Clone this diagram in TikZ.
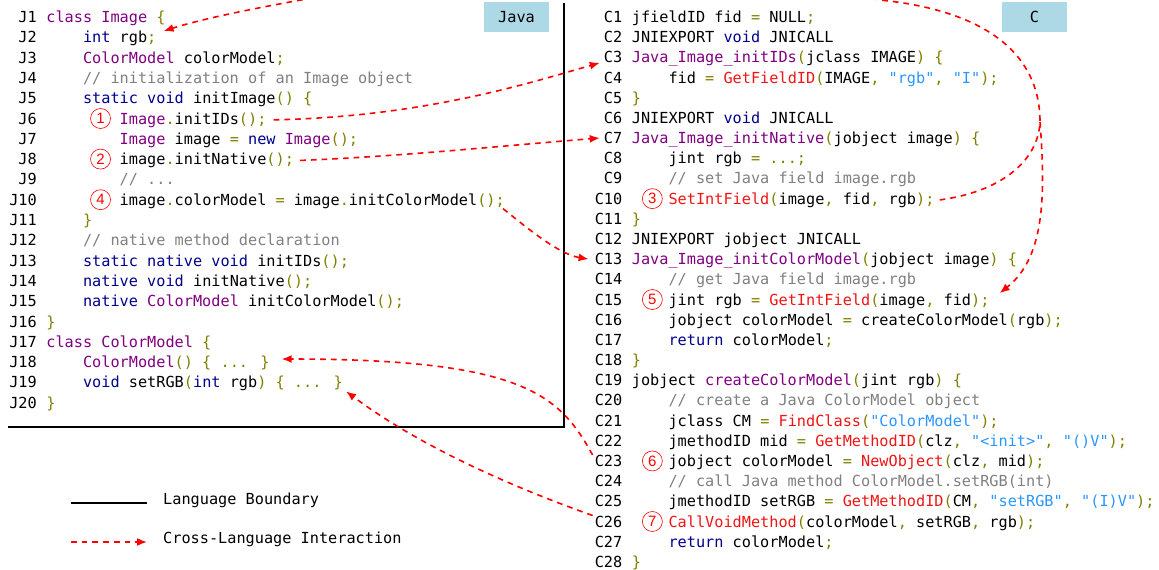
\documentclass[tikz,border=0pt]{standalone}
\usepackage{fontspec}
\usepackage{tikz}
\usetikzlibrary{arrows.meta}

\newfontfamily\codefont{DejaVu Sans Mono}
\newfontfamily\numfont{Liberation Sans}
\newcommand{\codesize}{\codefont\fontsize{15.23pt}{18pt}\selectfont}
\def\cw{9.17pt}

\definecolor{kwblue}{RGB}{0,0,140}
\definecolor{typurple}{RGB}{128,0,128}
\definecolor{puolive}{RGB}{128,128,0}
\definecolor{fnred}{RGB}{240,20,20}
\definecolor{strblue}{RGB}{42,150,255}
\definecolor{cmgray}{RGB}{128,128,128}
\definecolor{boxblue}{RGB}{173,216,230}

\newcommand{\jkw}[1]{\textcolor{kwblue}{#1}}
\newcommand{\jty}[1]{\textcolor{typurple}{#1}}
\newcommand{\jpu}[1]{\textcolor{puolive}{#1}}
\newcommand{\jfn}[1]{\textcolor{fnred}{#1}}
\newcommand{\jstr}[1]{\textcolor{strblue}{#1}}
\newcommand{\jcm}[1]{\textcolor{cmgray}{#1}}

\tikzset{
  code/.style={font=\codesize, anchor=base west, inner sep=0pt},
  lnum/.style={font=\codesize, anchor=base east, inner sep=0pt},
  cnum/.style={circle, draw=red, line width=0.6pt, text=red, minimum size=20pt,
    inner sep=0pt, font=\numfont\fontsize{15pt}{15pt}\selectfont},
  xarrow/.style={red, line width=1.6pt, dash pattern=on 5.7pt off 5pt,
    -{Latex[length=10pt,width=8pt]}},
  boundary/.style={black, line width=1.7pt},
  langbox/.style={fill=boxblue, minimum width=65pt, minimum height=30pt,
    inner sep=0pt, font=\codesize}
}

\begin{document}
\begin{tikzpicture}[x=1pt,y=-1pt]
\useasboundingbox (0,0) rectangle (1159,570);
\clip (0,0) rectangle (1159,570);

\draw[boundary] (564,3) -- (564,427) -- (8,427);
\node[langbox] (javabox) at (516.5,17) {Java};
\node[langbox] (cbox) at (1034.5,17) {C};

\foreach \i in {1,...,20}
  \node[lnum] (jn\i) at (37,{22.5+(\i-1)*20.3}) {J\i};
\foreach \i in {1,...,28}
  \node[lnum] (cn\i) at (622.5,{22.5+(\i-1)*20.18}) {C\i};

% Java side
\node[code] (j1) at ([xshift=\cw]jn1.base east) {\jty{class Image} \jpu{\{}};
\node[code] (j2) at ([xshift=5*\cw]jn2.base east) {\jkw{int} rgb\jpu{;}};
\node[code] (j3) at ([xshift=5*\cw]jn3.base east) {\jty{ColorModel} colorModel\jpu{;}};
\node[code] (j4) at ([xshift=5*\cw]jn4.base east) {\jcm{// initialization of an Image object}};
\node[code] (j5) at ([xshift=5*\cw]jn5.base east) {\jkw{static void} initImage\jpu{() \{}};
\node[code] (j6) at ([xshift=9*\cw]jn6.base east) {\jty{Image}\jpu{.}initIDs\jpu{();}};
\node[code] (j7) at ([xshift=9*\cw]jn7.base east) {\jty{Image} image \jpu{=} \jkw{new} \jty{Image}\jpu{();}};
\node[code] (j8) at ([xshift=9*\cw]jn8.base east) {image\jpu{.}initNative\jpu{();}};
\node[code] (j9) at ([xshift=9*\cw]jn9.base east) {\jcm{// ...}};
\node[code] (j10) at ([xshift=9*\cw]jn10.base east) {image\jpu{.}colorModel \jpu{=} image\jpu{.}initColorModel\jpu{();}};
\node[code] (j11) at ([xshift=5*\cw]jn11.base east) {\jpu{\}}};
\node[code] (j12) at ([xshift=5*\cw]jn12.base east) {\jcm{// native method declaration}};
\node[code] (j13) at ([xshift=5*\cw]jn13.base east) {\jkw{static native void} initIDs\jpu{();}};
\node[code] (j14) at ([xshift=5*\cw]jn14.base east) {\jkw{native void} initNative\jpu{();}};
\node[code] (j15) at ([xshift=5*\cw]jn15.base east) {\jkw{native} \jty{ColorModel} initColorModel\jpu{();}};
\node[code] (j16) at ([xshift=\cw]jn16.base east) {\jpu{\}}};
\node[code] (j17) at ([xshift=\cw]jn17.base east) {\jty{class ColorModel} \jpu{\{}};
\node[code] (j18) at ([xshift=5*\cw]jn18.base east) {\jty{ColorModel}\jpu{() \{ ... \}}};
\node[code] (j19) at ([xshift=5*\cw]jn19.base east) {\jkw{void} setRGB\jpu{(}\jkw{int} rgb\jpu{) \{ ... \}}};
\node[code] (j20) at ([xshift=\cw]jn20.base east) {\jpu{\}}};

% C side
\node[code] (c1) at ([xshift=\cw]cn1.base east) {jfieldID fid \jpu{=} NULL\jpu{;}};
\node[code] (c2) at ([xshift=\cw]cn2.base east) {JNIEXPORT \jkw{void} JNICALL};
\node[code] (c3) at ([xshift=\cw]cn3.base east) {\jty{Java\_Image\_initIDs}\jpu{(}jclass IMAGE\jpu{) \{}};
\node[code] (c4) at ([xshift=5*\cw]cn4.base east) {fid \jpu{=} \jfn{GetFieldID}\jpu{(}IMAGE\jpu{,} \jstr{"rgb"}\jpu{,} \jstr{"I"}\jpu{);}};
\node[code] (c5) at ([xshift=\cw]cn5.base east) {\jpu{\}}};
\node[code] (c6) at ([xshift=\cw]cn6.base east) {JNIEXPORT \jkw{void} JNICALL};
\node[code] (c7) at ([xshift=\cw]cn7.base east) {\jty{Java\_Image\_initNative}\jpu{(}jobject image\jpu{) \{}};
\node[code] (c8) at ([xshift=5*\cw]cn8.base east) {jint rgb \jpu{= ...;}};
\node[code] (c9) at ([xshift=5*\cw]cn9.base east) {\jcm{// set Java field image.rgb}};
\node[code] (c10) at ([xshift=5*\cw]cn10.base east) {\jfn{SetIntField}\jpu{(}image\jpu{,} fid\jpu{,} rgb\jpu{);}};
\node[code] (c11) at ([xshift=\cw]cn11.base east) {\jpu{\}}};
\node[code] (c12) at ([xshift=\cw]cn12.base east) {JNIEXPORT jobject JNICALL};
\node[code] (c13) at ([xshift=\cw]cn13.base east) {\jty{Java\_Image\_initColorModel}\jpu{(}jobject image\jpu{) \{}};
\node[code] (c14) at ([xshift=5*\cw]cn14.base east) {\jcm{// get Java field image.rgb}};
\node[code] (c15) at ([xshift=5*\cw]cn15.base east) {jint rgb \jpu{=} \jfn{GetIntField}\jpu{(}image\jpu{,} fid\jpu{);}};
\node[code] (c16) at ([xshift=5*\cw]cn16.base east) {jobject colorModel \jpu{=} createColorModel\jpu{(}rgb\jpu{);}};
\node[code] (c17) at ([xshift=5*\cw]cn17.base east) {\jkw{return} colorModel\jpu{;}};
\node[code] (c18) at ([xshift=\cw]cn18.base east) {\jpu{\}}};
\node[code] (c19) at ([xshift=\cw]cn19.base east) {jobject \jty{createColorModel}\jpu{(}jint rgb\jpu{) \{}};
\node[code] (c20) at ([xshift=5*\cw]cn20.base east) {\jcm{// create a Java ColorModel object}};
\node[code] (c21) at ([xshift=5*\cw]cn21.base east) {jclass CM \jpu{=} \jfn{FindClass}\jpu{(}\jstr{"ColorModel"}\jpu{);}};
\node[code] (c22) at ([xshift=5*\cw]cn22.base east) {jmethodID mid \jpu{=} \jfn{GetMethodID}\jpu{(}clz\jpu{,} \jstr{"<init>"}\jpu{,} \jstr{"()V"}\jpu{);}};
\node[code] (c23) at ([xshift=5*\cw]cn23.base east) {jobject colorModel \jpu{=} \jfn{NewObject}\jpu{(}clz\jpu{,} mid\jpu{);}};
\node[code] (c24) at ([xshift=5*\cw]cn24.base east) {\jcm{// call Java method ColorModel.setRGB(int)}};
\node[code] (c25) at ([xshift=5*\cw]cn25.base east) {jmethodID setRGB \jpu{=} \jfn{GetMethodID}\jpu{(}CM\jpu{,} \jstr{"setRGB"}\jpu{,} \jstr{"(I)V"}\jpu{);}};
\node[code] (c26) at ([xshift=5*\cw]cn26.base east) {\jfn{CallVoidMethod}\jpu{(}colorModel\jpu{,} setRGB\jpu{,} rgb\jpu{);}};
\node[code] (c27) at ([xshift=5*\cw]cn27.base east) {\jkw{return} colorModel\jpu{;}};
\node[code] (c28) at ([xshift=\cw]cn28.base east) {\jpu{\}}};

% step marks
\node[cnum] (m1) at ([xshift=-19pt,yshift=5.5pt]j6.base west) {1};
\node[cnum] (m2) at ([xshift=-19pt,yshift=5.5pt]j8.base west) {2};
\node[cnum] (m4) at ([xshift=-19pt,yshift=5.5pt]j10.base west) {4};
\node[cnum] (m3) at ([xshift=-16pt,yshift=5.5pt]c10.base west) {3};
\node[cnum] (m5) at ([xshift=-16pt,yshift=5.5pt]c15.base west) {5};
\node[cnum] (m6) at ([xshift=-16pt,yshift=5.5pt]c23.base west) {6};
\node[cnum] (m7) at ([xshift=-16pt,yshift=5.5pt]c26.base west) {7};

% cross-language interactions
\coordinate (fork) at (1040,122);
\coordinate (topR) at (880,0);
\coordinate (topL) at (301,0);
\draw[xarrow] ([xshift=7pt]j6.east) .. controls +(150,-3) and +(-70,20) .. ([xshift=-4pt]cn3.base west);
\draw[xarrow] ([xshift=6pt]j8.east) .. controls +(100,-4) and +(-100,8) .. ([xshift=-4pt]cn7.west);
\draw[xarrow] ([xshift=-2pt]j10.south east) .. controls +(25,20) and +(-30,-5) .. ([xshift=-6pt]cn13.west);
\draw[xarrow] ([xshift=5pt]c10.east) .. controls +(60,-8) and +(-2,40) .. (fork)
  .. controls +(0,-72) and +(100,10) .. (topR)
  .. controls +(-180,-35) and +(179,-35) .. (topL)
  .. controls +(-50,9) and +(38,-12) .. ([xshift=7pt]j2.north east);
\draw[xarrow] (fork) .. controls +(6,78) and +(44,-35) .. ([xshift=10pt]c15.north east);
\draw[xarrow] ([xshift=-2pt]cn23.north west) .. controls +(-33,-60) and +(242,0) .. ([xshift=12pt,yshift=4pt]j18.east);
\draw[xarrow] ([xshift=-2pt]cn26.north west) .. controls +(-73,-26) and +(78,58) .. ([xshift=3pt]j19.south east);

% legend
\node[code, anchor=west] (lgbound) at (163,500) {Language Boundary};
\node[code, anchor=west] (lgcross) at (163,539) {Cross-Language Interaction};
\draw[boundary] ([xshift=-16pt,yshift=-2.7pt]lgbound.west) -- ++(-76,0);
\draw[xarrow] ([xshift=-92pt,yshift=-3pt]lgcross.west) -- ([xshift=-16pt,yshift=-3pt]lgcross.west);
\end{tikzpicture}
\end{document}
